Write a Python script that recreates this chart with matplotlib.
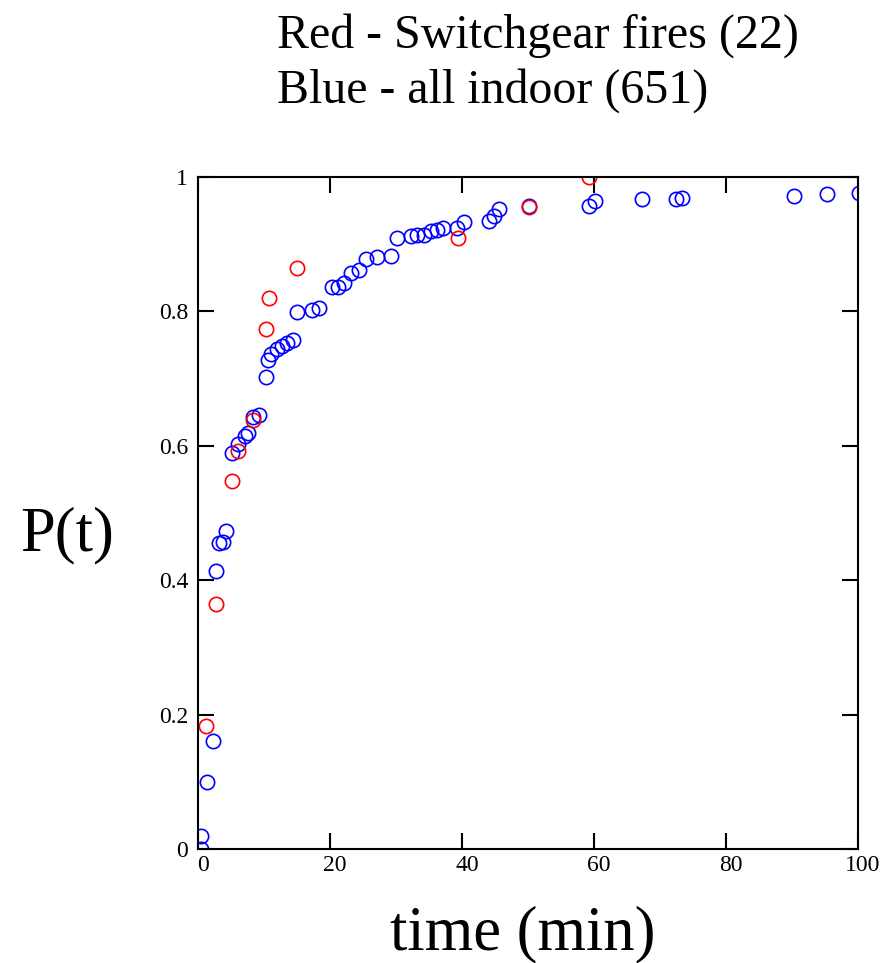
import matplotlib
matplotlib.use("Agg")
import matplotlib.pyplot as plt
from matplotlib.ticker import FuncFormatter
from matplotlib.transforms import ScaledTranslation

# Cumulative probability of fire control by time t
red_t = [1.2, 2.7, 5.2, 6.1, 8.4, 10.3, 10.8, 15.0, 39.4, 50.2, 59.2]
red_p = [0.183, 0.365, 0.548, 0.592, 0.638, 0.774, 0.820, 0.865, 0.909, 0.955, 1.0]

blue_t = [0.4, 0.5, 1.3, 2.3, 2.7, 3.2, 3.8, 4.2, 5.2, 6.1, 7.1, 7.6, 8.4, 9.2,
          10.3, 10.6, 11.1, 12.0, 12.7, 13.5, 14.4, 15.0, 17.3, 18.3, 20.3, 21.2,
          22.1, 23.2, 24.4, 25.5, 27.1, 29.2, 30.2, 32.3, 33.2, 34.2, 35.3, 36.2,
          37.1, 39.2, 40.3, 44.1, 44.8, 45.6, 50.2, 59.2, 60.2, 67.3, 72.4, 73.4,
          90.3, 95.3, 100.2]
blue_p = [0.0, 0.019, 0.100, 0.161, 0.414, 0.455, 0.457, 0.473, 0.589, 0.603,
          0.615, 0.619, 0.643, 0.646, 0.702, 0.728, 0.737, 0.744, 0.749, 0.753,
          0.757, 0.799, 0.802, 0.805, 0.836, 0.836, 0.842, 0.857, 0.862, 0.878,
          0.881, 0.882, 0.909, 0.912, 0.914, 0.914, 0.920, 0.921, 0.924, 0.924,
          0.933, 0.934, 0.942, 0.952, 0.957, 0.957, 0.964, 0.967, 0.967, 0.969,
          0.972, 0.975, 0.976]

x_ticks = [0, 20, 40, 60, 80, 100]
y_ticks = [0, 0.2, 0.4, 0.6, 0.8, 1.0]

plt.rcParams['font.family'] = ['Liberation Serif', 'DejaVu Serif']

fig = plt.figure(figsize=(8.9, 9.63), dpi=100)
ax = fig.add_axes([198 / 890, 1 - 849 / 963, 660 / 890, 672 / 963])

mk = dict(marker='o', linestyle='none', markersize=10.3, markerfacecolor='none',
          markeredgewidth=1.2)
ax.plot(blue_t, blue_p, markeredgecolor='#0000ff', **mk)
ax.plot(red_t, red_p, markeredgecolor='#ff0000', **mk)

ax.set_xlim(0, 100)
ax.set_ylim(0, 1)
ax.set_xticks(x_ticks)
ax.set_yticks(y_ticks)
ax.yaxis.set_major_formatter(FuncFormatter(lambda v, p: f"{v:g}"))
ax.tick_params(direction='in', length=11.5, width=1.5, labelsize=17,
               top=True, right=True)
ax.tick_params(axis='x', pad=4)
ax.tick_params(axis='y', pad=7)
# x tick labels sit a little right of their ticks
shift = ScaledTranslation(5 / 100, 0, fig.dpi_scale_trans)
for lbl in ax.get_xticklabels():
    lbl.set_transform(lbl.get_transform() + shift)
for s in ax.spines.values():
    s.set_linewidth(1.5)

fig.text(277 / 890, 1 - 48 / 963, "Red - Switchgear fires (22)", fontsize=34.5,
         ha='left', va='baseline')
fig.text(277 / 890, 1 - 103 / 963, "Blue - all indoor (651)", fontsize=34.5,
         ha='left', va='baseline')
fig.text(20 / 890, 1 - 550 / 963, "P(t)", fontsize=45, ha='left', va='baseline')
fig.text(523 / 890, 1 - 949 / 963, "time (min)", fontsize=45, ha='center',
         va='baseline')

fig.savefig("out.png", dpi=100)
